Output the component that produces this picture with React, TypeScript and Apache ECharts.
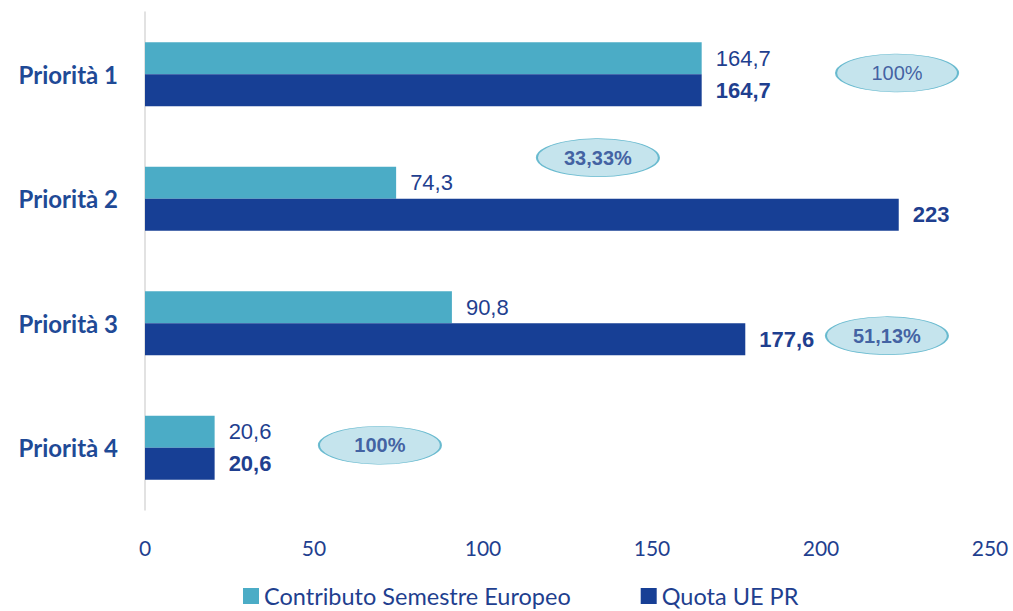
import React, { useEffect, useRef } from "react";
import * as echarts from "echarts";

const categories = ["Priorità 1", "Priorità 2", "Priorità 3", "Priorità 4"];
const contributo = [164.7, 74.3, 90.8, 20.6];
const quota = [164.7, 223, 177.6, 20.6];
const xTicks = [0, 50, 100, 150, 200, 250];
// annotation bubbles: [x value, category position (0 = Priorità 1 centre)], label, bold
const bubbleX = [222.5, 134, 219.5, 69.5];
const bubbleY = [-0.01, 0.67, 2.1, 2.98];
const bubbleLabels = ["100%", "33,33%", "51,13%", "100%"];
const bubbleBold = [false, true, true, true];

const fmt = (v: number) => String(v).replace(".", ",");

export default function App() {
  const ref = useRef<HTMLDivElement>(null);
  useEffect(() => {
    const chart = echarts.init(ref.current!, null, { renderer: "svg" });
    const textColor = "#1F3F8F";
    chart.setOption({
      animation: false,
      backgroundColor: "#ffffff",
      grid: { left: 145, right: 23, top: 12, bottom: 101 },
      legend: {
        top: 584,
        left: 243,
        itemWidth: 16,
        itemHeight: 16,
        itemGap: 70,
        itemStyle: { borderWidth: 0 },
        icon: "rect",
        padding: 0,
        data: ["Contributo Semestre Europeo", "Quota UE PR"],
        textStyle: { fontFamily: "Lato", fontSize: 23.5, color: textColor },
      },
      xAxis: {
        type: "value",
        min: 0,
        max: 250,
        interval: 50,
        axisLine: { show: false },
        axisTick: { show: false },
        splitLine: { show: false },
        axisLabel: {
          margin: 27,
          fontFamily: "Lato",
          fontSize: 21,
          color: textColor,
          formatter: (v: number) => (xTicks.includes(v) ? String(v) : ""),
        },
      },
      yAxis: [
        {
          type: "category",
          data: categories,
          inverse: true,
          axisLine: { show: true, lineStyle: { color: "#d9d9d9", width: 1.5 } },
          axisTick: { show: false },
          axisLabel: {
            margin: 27,
            fontFamily: "Lato",
            fontWeight: "bold",
            fontSize: 24,
            color: "#1F4A96",
          },
        },
        {
          type: "value",
          min: -0.5,
          max: 3.5,
          inverse: true,
          show: false,
        },
      ],
      series: [
        {
          name: "Contributo Semestre Europeo",
          type: "bar",
          data: contributo,
          barWidth: 32,
          barGap: "0%",
          itemStyle: { color: "#4BACC6" },
          label: {
            show: true,
            position: "right",
            distance: 14,
            fontFamily: "Liberation Sans",
            fontSize: 22,
            color: textColor,
            formatter: (p: any) => fmt(p.value),
          },
        },
        {
          name: "Quota UE PR",
          type: "bar",
          data: quota,
          barWidth: 32,
          barGap: "0%",
          itemStyle: { color: "#173F95" },
          label: {
            show: true,
            position: "right",
            distance: 14,
            fontFamily: "Liberation Sans",
            fontWeight: "bold",
            fontSize: 22,
            color: textColor,
            formatter: (p: any) => fmt(p.value),
          },
        },
        {
          type: "scatter",
          yAxisIndex: 1,
          symbol: "circle",
          symbolSize: [122, 38],
          silent: true,
          z: 5,
          itemStyle: { color: "#B7DDE8", borderColor: "#4BACC6", borderWidth: 1.2 },
          data: bubbleX.map((x, i) => ({
            value: [x, bubbleY[i]],
            label: {
              show: true,
              position: "inside",
              formatter: bubbleLabels[i],
              fontFamily: "Liberation Sans",
              fontSize: 20,
              fontWeight: bubbleBold[i] ? "bold" : "normal",
              color: textColor,
            },
          })),
        },
      ],
    });
    return () => chart.dispose();
  }, []);
  return (
    <div
      ref={ref}
      style={{ position: "fixed", left: 0, top: 0, width: 1013, height: 611 }}
    />
  );
}
